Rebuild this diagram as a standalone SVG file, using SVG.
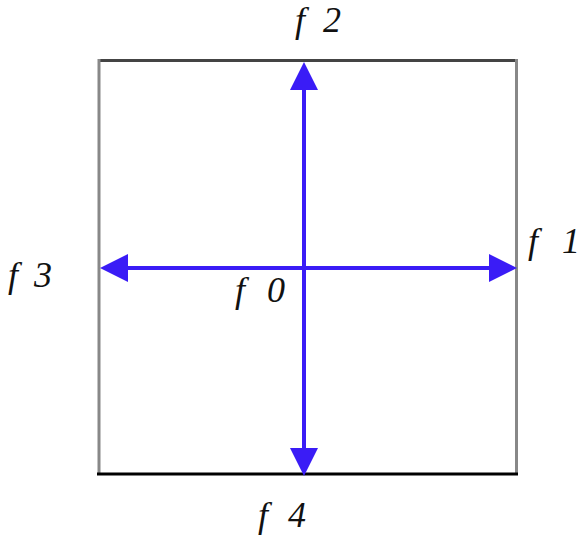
<svg xmlns="http://www.w3.org/2000/svg" width="582" height="538" viewBox="0 0 582 538">
<style>
.lbl{font-family:'Liberation Serif','Times New Roman',serif;font-style:italic;font-size:36px;fill:#111}
.arr{stroke:#3a1cf6;stroke-width:4;fill:none}
.head{fill:#3a1cf6}
</style>
<rect width="582" height="538" fill="#fff"/>
<g id="box">
<line x1="99" y1="60.5" x2="517" y2="60.5" stroke="#444" stroke-width="3"/>
<line x1="99" y1="59" x2="99" y2="474" stroke="#888" stroke-width="3"/>
<line x1="516.5" y1="59" x2="516.5" y2="474" stroke="#888" stroke-width="3"/>
<line x1="97" y1="474" x2="518" y2="474" stroke="#000" stroke-width="3"/>
</g>
<g id="connectors">
<line class="arr" x1="304" y1="85" x2="304" y2="450"/>
<line class="arr" x1="124" y1="268" x2="493" y2="268"/>
<polygon class="head" points="304,62 290,90 318,90"/>
<polygon class="head" points="304,476 290,448 318,448"/>
<polygon class="head" points="100,268 128,254 128,282"/>
<polygon class="head" points="517,268 489,254 489,282"/>
</g>
<g id="f0"><text class="lbl" x="235" y="302">f<tspan dx="22">0</tspan></text></g>
<g id="f1"><text class="lbl" x="528" y="253">f<tspan dx="24">1</tspan></text></g>
<g id="f2"><text class="lbl" x="295" y="32">f<tspan dx="18">2</tspan></text></g>
<g id="f3"><text class="lbl" x="8" y="287">f<tspan dx="16">3</tspan></text></g>
<g id="f4"><text class="lbl" x="258" y="527">f<tspan dx="20">4</tspan></text></g>
</svg>
